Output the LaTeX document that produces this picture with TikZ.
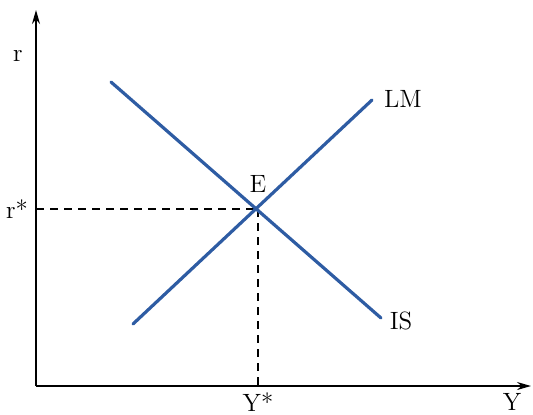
\documentclass[tikz,border=0pt]{standalone}
\usepackage{xcolor}
\usepackage{tikz}
\usetikzlibrary{arrows.meta,positioning}
\definecolor{CurveBlue}{RGB}{46,92,163}
\tikzset{
  axis/.style={-{Stealth[length=7pt,width=4pt]}, line width=0.8pt, color=black},
  curve/.style={line width=1.6pt, color=CurveBlue, line cap=round},
  guide/.style={dashed, dash pattern=on 4pt off 3pt, line width=0.6pt},
  lbl/.style={font=\fontsize{12.5}{14}\selectfont, inner sep=0pt}
}
\begin{document}
\begin{tikzpicture}[x=0.5pt,y=-0.5pt]
  \useasboundingbox (0,0) rectangle (533,414);

  % axes
  \coordinate (O)   at (36,386);
  \coordinate (top) at (36,10);
  \coordinate (rgt) at (531,386);
  \draw[axis] (O) -- (top);
  \draw[axis] (O) -- (rgt);

  % curves
  \coordinate (is1) at (111,82);
  \coordinate (is2) at (381,318);
  \coordinate (lm1) at (133,324);
  \coordinate (lm2) at (372,100);
  \coordinate (E)   at (258,209);
  \coordinate (rs)  at (36,209);
  \coordinate (ys)  at (258,386);

  \draw[guide] (rs) -- (E);
  \draw[guide] (E) -- (ys);
  \draw[curve] (is1) -- (is2);
  \draw[curve] (lm1) -- (lm2);

  % labels
  \node[lbl] (rlab)  at (18,56)   {r};
  \node[lbl] (rstar) at (17,209)  {r*};
  \node[lbl] (elab)  at (258,184) {E};
  \node[lbl] (lmlab) at (403,99)  {LM};
  \node[lbl] (islab) at (401,321) {IS};
  \node[lbl] (ystar) at (258,402) {Y*};
  \node[lbl] (ylab)  at (512,402) {Y};
\end{tikzpicture}
\end{document}
